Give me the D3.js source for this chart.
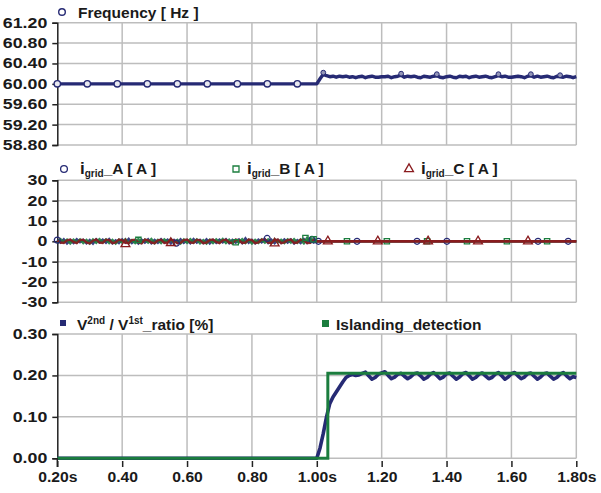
<!DOCTYPE html>
<html><head><meta charset="utf-8">
<script src="https://cdn.jsdelivr.net/npm/d3@7"></script>
<style>body{margin:0;background:#fff}svg{display:block}</style></head>
<body>
<svg id="c" width="601" height="493"></svg>
<script>
// ---------- DATA ----------
const xTicks = [0.2,0.4,0.6,0.8,1.0,1.2,1.4,1.6,1.8];
const xTickLabels = ["0.20s","0.40","0.60","0.80","1.00s","1.20","1.40","1.60","1.80s"];
const freqTicks = [58.8,59.2,59.6,60.0,60.4,60.8,61.2];
const curTicks = [-30,-20,-10,0,10,20,30];
const ratioTicks = [0,0.1,0.2,0.3];

// frequency: flat 60 Hz before islanding, then samples every 10 ms from 1.00 s
const freqPre = [[0.20,60.00],[1.00,60.00]];
const freqPostT0 = 1.00, freqPostStep = 0.01;
const freqPost = [60.00,60.10,60.19,60.16,60.14,60.15,60.13,60.15,60.14,60.15,
  60.13,60.14,60.12,60.14,60.15,60.12,60.14,60.15,60.13,60.13,
  60.14,60.14,60.15,60.12,60.14,60.15,60.17,60.13,60.15,60.14,
  60.15,60.13,60.12,60.15,60.14,60.13,60.15,60.16,60.13,60.12,
  60.14,60.15,60.13,60.12,60.15,60.14,60.15,60.12,60.14,60.15,
  60.13,60.14,60.15,60.13,60.12,60.14,60.16,60.14,60.15,60.13,
  60.13,60.14,60.15,60.14,60.12,60.15,60.16,60.13,60.15,60.13,
  60.14,60.15,60.13,60.12,60.15,60.14,60.13,60.15,60.14,60.12,60.14];
const freqMarkerPreT = [0.2,0.2925,0.385,0.4775,0.57,0.6625,0.755,0.8475,0.94];
const freqMarkerPostT = [1.02,1.26,1.37,1.56,1.66,1.75];

// grid currents: samples every 10 ms from 0.20 s to 1.00 s, then zero
const curT0 = 0.20, curStep = 0.01;
const iA = [0.8,-0.6,0.9,-1.0,0.5,-0.8,1.0,-0.4,0.7,-0.9,
  0.6,-1.1,0.9,-0.5,0.8,-0.7,1.0,-0.9,0.4,-0.8,
  0.9,-0.6,1.1,-0.8,0.5,-1.0,0.7,-0.6,0.9,-0.9,
  0.6,-0.7,1.0,-0.5,0.8,-1.0,0.6,-0.8,0.9,-0.7,
  0.5,-0.9,1.0,-0.6,0.7,-0.8,0.9,-1.0,0.6,-0.7,
  0.8,-0.5,1.0,-0.9,0.7,-0.6,0.9,-0.8,1.4,-0.7,
  0.6,-0.9,0.8,-0.5,1.0,-0.8,0.7,-0.9,0.6,-0.7,
  0.9,-0.6,0.8,-1.0,0.5,-0.8,1.0,-0.7,1.2,-0.6,0.0];
const iB = [-0.9,1.0,-0.5,0.8,-1.0,0.7,-0.6,0.9,-0.8,0.6,
  -1.0,0.8,-0.7,1.0,-0.5,0.9,-0.8,0.6,-1.0,0.7,
  -0.6,0.9,-0.9,0.5,-0.8,1.0,-0.7,0.8,-0.6,1.0,
  -0.9,0.6,-0.8,0.9,-0.5,1.0,-0.7,0.6,-1.0,0.8,
  -0.7,1.0,-0.6,0.8,-0.9,0.5,-1.0,0.7,-0.8,0.9,
  -0.6,1.0,-0.8,0.7,-0.9,0.6,-0.5,1.0,-0.8,0.7,
  -1.0,0.6,-0.7,0.9,-0.6,0.8,-0.9,1.0,-0.5,0.7,
  -0.8,0.9,-0.6,1.0,-0.7,0.8,-0.9,1.6,-0.5,1.2,0.0];
const iC = [0.3,-0.6,-0.8,0.5,0.9,-0.3,-0.9,0.6,0.8,-0.5,
  -1.0,0.3,0.9,-0.6,-0.8,0.8,0.6,-0.9,-0.5,0.9,
  0.5,-0.8,-0.9,0.6,0.8,-0.5,-1.0,0.8,0.5,-0.6,
  -0.9,0.5,0.8,-0.8,-0.6,0.9,0.3,-0.9,-0.8,0.6,
  0.9,-0.5,-0.8,0.8,0.5,-0.9,-0.6,0.6,0.9,-0.3,
  -0.9,0.5,0.8,-0.6,-0.9,0.8,0.5,-0.8,-0.6,0.9,
  0.6,-0.9,-0.5,0.8,0.9,-0.6,-0.8,0.5,0.8,-0.9,
  -0.5,0.6,0.9,-0.8,-0.6,0.8,0.5,-0.9,-0.8,0.6,0.0];
const curEnd = [1.80, 0.0];
const iAMarkPreT = [0.2,0.567,0.847,0.985];
const iAMarkPreV = [0.6,-0.9,1.4,0.9];
const iBMarkPreT = [0.45,0.75,0.965,0.99];
const iBMarkPreV = [0.7,-0.5,1.6,1.0];
const iCMarkPreT = [0.41,0.55,0.87];
const iCMarkPreV = [-1.4,-0.8,-1.0];
const iAMarkPostT = [1.005,1.124,1.309,1.401,1.682,1.775];
const iBMarkPostT = [1.093,1.216,1.34,1.463,1.586,1.71];
const iCMarkPostT = [1.034,1.188,1.343,1.497,1.651];

// V2nd/V1st ratio
const ratioPre = [[0.20,0.0],[1.00,0.0]];
const ratioPostT0 = 1.00, ratioPostStep = 0.01;
const ratioPost = [0.000,0.025,0.060,0.100,0.132,0.148,0.160,0.172,0.184,0.195,
  0.200,0.202,0.200,0.201,0.205,0.208,0.199,0.191,0.195,0.203,
  0.206,0.209,0.200,0.192,0.196,0.203,0.205,0.198,0.192,0.197,
  0.204,0.206,0.199,0.191,0.195,0.203,0.207,0.200,0.192,0.196,
  0.204,0.206,0.198,0.191,0.196,0.204,0.207,0.199,0.191,0.195,
  0.203,0.206,0.199,0.192,0.195,0.203,0.207,0.199,0.191,0.196,
  0.204,0.207,0.199,0.192,0.196,0.204,0.206,0.198,0.191,0.196,
  0.204,0.206,0.198,0.191,0.195,0.203,0.207,0.199,0.192,0.197,0.195];
const islanding = [[0.20,0.0],[1.034,0.0],[1.034,0.205],[1.80,0.205]];

// ---------- DRAW ----------
const NAVY="#262a74", GREEN="#1b7d3e", RED="#8a1b1e", GRID="#bdbdbd";
const FONT="'Liberation Sans', Arial, sans-serif";
const svg = d3.select("#c");
const x = d3.scaleLinear().domain([0.2,1.8]).range([57.3,576.3]);

const panels = [
  {ticks:freqTicks, y:d3.scaleLinear().domain([58.8,61.2]).range([145,22.7]), fmt:d=>d.toFixed(2)},
  {ticks:curTicks, y:d3.scaleLinear().domain([-30,30]).range([302.3,180.3]), fmt:d=>String(d)},
  {ticks:ratioTicks, y:d3.scaleLinear().domain([0,0.3]).range([458.3,334]), fmt:d=>d.toFixed(2)}
];

function stretch(sel, k){
  sel.each(function(){ const w=this.getComputedTextLength(); d3.select(this).attr("textLength",w*k).attr("lengthAdjust","spacingAndGlyphs"); });
}

panels.forEach((p,i)=>{
  const g = svg.append("g");
  const [y0,y1] = p.y.range();
  g.append("g").selectAll("line").data(p.ticks).join("line")
    .attr("x1",x(0.2)).attr("x2",x(1.8)).attr("y1",d=>p.y(d)).attr("y2",d=>p.y(d))
    .attr("stroke",GRID).attr("stroke-width",1.5);
  g.append("g").selectAll("line").data(xTicks.slice(1)).join("line")
    .attr("x1",d=>x(d)).attr("x2",d=>x(d)).attr("y1",y1).attr("y2",y0)
    .attr("stroke",GRID).attr("stroke-width",1.5);
  const ax = g.append("g").attr("transform",`translate(${x(0.2)},0)`)
    .call(d3.axisLeft(p.y).tickValues(p.ticks).tickFormat(p.fmt).tickSize(5).tickPadding(5));
  ax.select(".domain").attr("stroke","#222").attr("stroke-width",1.5);
  ax.selectAll(".tick line").attr("stroke","#222").attr("stroke-width",1.5);
  ax.selectAll("text").attr("font-family",FONT).attr("font-weight","bold").attr("font-size",14).attr("fill","#1a1a1a");
  stretch(ax.selectAll("text"),1.27);
  p.g = g;
});

const xa = svg.append("g").attr("transform",`translate(0,461)`)
  .call(d3.axisBottom(x).tickValues(xTicks).tickFormat((d,i)=>xTickLabels[i]).tickSize(6).tickPadding(5));
xa.select(".domain").remove();
xa.selectAll(".tick line").attr("stroke","#222").attr("stroke-width",1.5);
xa.selectAll("text").attr("font-family",FONT).attr("font-weight","bold").attr("font-size",14).attr("fill","#1a1a1a");
stretch(xa.selectAll("text"),1.12);
svg.append("line").attr("x1",x(0.2)).attr("x2",x(0.2)).attr("y1",458).attr("y2",467).attr("stroke","#222").attr("stroke-width",1.5);

// ---- panel 1: frequency
{
  const y = panels[0].y;
  const pts = freqPre.concat(freqPost.map((v,i)=>[freqPostT0+i*freqPostStep,v]));
  const line = d3.line().x(d=>x(d[0])).y(d=>y(d[1]));
  panels[0].g.append("path").datum(pts).attr("d",line).attr("fill","none").attr("stroke",NAVY).attr("stroke-width",3.4).attr("stroke-linejoin","round");
  const interp = t=>{ for(let k=1;k<pts.length;k++){ if(pts[k][0]>=t){ const a=pts[k-1],b=pts[k]; const f=(t-a[0])/((b[0]-a[0])||1); return a[1]+f*(b[1]-a[1]); } } return pts[pts.length-1][1]; };
  panels[0].g.append("g").selectAll("circle").data(freqMarkerPreT).join("circle")
    .attr("cx",d=>x(d)).attr("cy",d=>y(interp(d))).attr("r",3.2)
    .attr("fill","#e8e8f0").attr("stroke",NAVY).attr("stroke-width",1.4);
  panels[0].g.append("g").selectAll("circle").data(freqMarkerPostT).join("circle")
    .attr("cx",d=>x(d)).attr("cy",d=>y(interp(d))-1.5).attr("r",2.4)
    .attr("fill","#9496b8").attr("stroke",NAVY).attr("stroke-width",1);
}

// ---- panel 2: currents
function markerSym(type){ return type==="circle"? d3.symbolCircle : type==="square"? d3.symbolSquare : d3.symbolTriangle; }
{
  const y = panels[1].y;
  const g = panels[1].g;
  const series = [
    {vals:iA,col:NAVY,type:"circle",preT:iAMarkPreT,preV:iAMarkPreV,post:iAMarkPostT,w:2.6},
    {vals:iB,col:GREEN,type:"square",preT:iBMarkPreT,preV:iBMarkPreV,post:iBMarkPostT,w:2.6},
    {vals:iC,col:RED,type:"triangle",preT:iCMarkPreT,preV:iCMarkPreV,post:iCMarkPostT,w:2.4}
  ];
  const line = d3.line().x(d=>x(d[0])).y(d=>y(d[1]));
  series.forEach(s=>{
    const pts = s.vals.map((v,i)=>[curT0+i*curStep,v]).concat([curEnd]);
    g.append("path").datum(pts).attr("d",line).attr("fill","none").attr("stroke",s.col).attr("stroke-width",s.w).attr("opacity",0.9);
  });
  series.forEach(s=>{
    const mk = s.preT.map((t,i)=>[t,s.preV[i]]).concat(s.post.map(t=>[t,0]));
    g.append("g").selectAll("path").data(mk).join("path")
      .attr("transform",d=>`translate(${x(d[0])},${y(d[1])})`)
      .attr("d",d3.symbol().type(markerSym(s.type)).size(s.type==="triangle"?34:28))
      .attr("fill","none").attr("stroke",s.col).attr("stroke-width",1.3);
  });
  g.append("line").attr("x1",x(1.0)).attr("x2",x(1.8)).attr("y1",y(0)).attr("y2",y(0)).attr("stroke",RED).attr("stroke-width",2.2);
}

// ---- panel 3: ratio + islanding
{
  const y = panels[2].y;
  const g = panels[2].g;
  const line = d3.line().x(d=>x(d[0])).y(d=>y(d[1]));
  const pts = ratioPre.concat(ratioPost.map((v,i)=>[ratioPostT0+i*ratioPostStep,v]));
  g.append("path").datum(pts).attr("d",line).attr("fill","none").attr("stroke",NAVY).attr("stroke-width",3.6).attr("stroke-linejoin","round");
  g.append("path").datum(islanding).attr("d",line).attr("fill","none").attr("stroke",GREEN).attr("stroke-width",3);
}

// ---------- LEGENDS ----------
const LF = 15.5;
function legText(xp,yp){ return svg.append("text").attr("x",xp).attr("y",yp).attr("font-family",FONT).attr("font-weight","bold").attr("font-size",LF).attr("fill","#1a1a1a"); }
svg.append("circle").attr("cx",62).attr("cy",12).attr("r",3.3).attr("fill","#fff").attr("stroke",NAVY).attr("stroke-width",1.4);
legText(78,18).text("Frequency [ Hz ]");
const leg2 = [
  {x:64,tx:80,col:NAVY,type:"circle",ph:"A"},
  {x:236,tx:247,col:GREEN,type:"square",ph:"B"},
  {x:409,tx:421,col:RED,type:"triangle",ph:"C"}
];
leg2.forEach(l=>{
  svg.append("path").attr("transform",`translate(${l.x},169)`)
    .attr("d",d3.symbol().type(markerSym(l.type)).size(l.type==="triangle"?34:36))
    .attr("fill","none").attr("stroke",l.col).attr("stroke-width",1.3);
  const t = legText(l.tx,174);
  t.append("tspan").attr("font-size",17).text("i");
  t.append("tspan").attr("font-size",10).attr("dy",3).text("grid");
  t.append("tspan").attr("dy",-3).text(`_${l.ph} [ A ]`);
});
svg.append("rect").attr("x",60).attr("y",320).attr("width",6).attr("height",6).attr("fill",NAVY);
{
  const t = legText(77,330);
  t.append("tspan").text("V");
  t.append("tspan").attr("font-size",10).attr("dy",-6).text("2nd");
  t.append("tspan").attr("dy",6).text(" / V");
  t.append("tspan").attr("font-size",10).attr("dy",-6).text("1st");
  t.append("tspan").attr("dy",6).text("_ratio [%]");
}
svg.append("rect").attr("x",322).attr("y",320).attr("width",7).attr("height",7).attr("fill",GREEN);
legText(336,330).text("Islanding_detection");
</script>
</body></html>
